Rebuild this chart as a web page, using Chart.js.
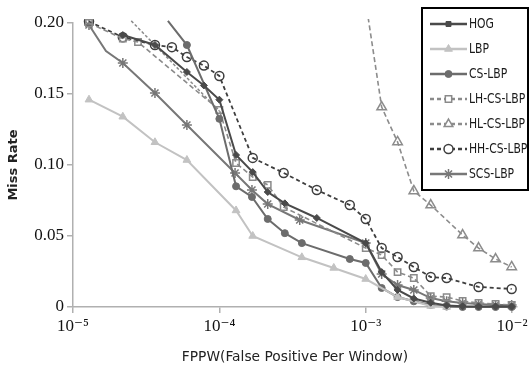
<!DOCTYPE html>
<html><head><meta charset="utf-8">
<script src="https://cdn.jsdelivr.net/npm/chart.js@4.4.1/dist/chart.umd.min.js"></script>
<style>html,body{margin:0;padding:0;background:#fff}#wrap{width:532px;height:370px;position:relative}</style>
</head><body><div id="wrap"><canvas id="c" width="532" height="370"></canvas></div>
<script>
// ---- data (FPPW on log x axis, Miss Rate on y axis) ----
const seriesNames = ['HOG','LBP','CS-LBP','LH-CS-LBP','HL-CS-LBP','HH-CS-LBP','SCS-LBP'];
const xTickValues = [1e-5, 1e-4, 1e-3, 1e-2];
const yTickValues = [0, 0.05, 0.10, 0.15, 0.20];

const hogFppw = [2.19e-5,3.63e-5,6.0e-5,7.84e-5,1.0e-4,1.3e-4,1.69e-4,2.14e-4,2.8e-4,4.63e-4,1.0e-3,1.285e-3,1.65e-3,2.13e-3,2.78e-3,3.57e-3,4.59e-3,5.9e-3,7.71e-3,9.93e-3];
const hogMiss = [0.1915,0.1845,0.1655,0.156,0.146,0.107,0.095,0.081,0.073,0.0627,0.045,0.0246,0.012,0.006,0.003,0.001,0.0005,0.0003,0.0003,0.0003];

const lbpFppw = [1.286e-5,2.19e-5,3.63e-5,6.0e-5,1.3e-4,1.69e-4,3.66e-4,6.05e-4,1.0e-3,1.65e-3,2.78e-3,3.57e-3];
const lbpMiss = [0.146,0.134,0.116,0.1035,0.068,0.050,0.035,0.0275,0.0197,0.007,0.0007,0.0];

const csFppw = [4.45e-5,6.0e-5,1.0e-4,1.3e-4,1.67e-4,2.14e-4,2.8e-4,3.66e-4,7.78e-4,1.0e-3,1.285e-3,1.65e-3,2.13e-3,2.78e-3,3.57e-3,4.59e-3,5.9e-3,7.71e-3,9.93e-3];
const csMiss = [0.2015,0.1845,0.1325,0.085,0.0775,0.062,0.052,0.045,0.0338,0.031,0.0134,0.007,0.004,0.0014,0.0003,0,0,0,0];

const lhFppw = [1.286e-5,2.19e-5,2.78e-5,1.0e-4,1.3e-4,1.69e-4,2.14e-4,2.75e-4,1.0e-3,1.285e-3,1.65e-3,2.13e-3,2.78e-3,3.57e-3,4.59e-3,5.9e-3,7.71e-3,9.93e-3];
const lhMiss = [0.200,0.189,0.1866,0.1387,0.1014,0.0915,0.086,0.0704,0.0415,0.0366,0.0246,0.0204,0.0077,0.007,0.0042,0.0028,0.0021,0.0014];
const lhUpperFppw = [2.5e-5,1.0e-4];
const lhUpperMiss = [0.2015,0.138];

const hlFppw = [1.0e-3,1.285e-3,1.65e-3,2.13e-3,2.78e-3,4.59e-3,5.9e-3,7.71e-3,9.93e-3];
const hlMiss = [0.215,0.1408,0.1162,0.0817,0.0718,0.0507,0.0415,0.0338,0.0282];

const hhFppw = [1.286e-5,2.19e-5,3.63e-5,4.74e-5,6.0e-5,7.84e-5,1.0e-4,1.69e-4,2.75e-4,4.63e-4,7.78e-4,1.0e-3,1.285e-3,1.65e-3,2.13e-3,2.78e-3,3.57e-3,5.9e-3,9.93e-3];
const hhMiss = [0.201,0.19,0.1845,0.183,0.176,0.170,0.1627,0.105,0.0944,0.0824,0.0718,0.062,0.0415,0.0352,0.0282,0.0211,0.0204,0.0141,0.0127];

const scsFppw = [1.286e-5,1.68e-5,2.19e-5,3.63e-5,6.0e-5,1.28e-4,1.67e-4,2.14e-4,3.54e-4,1.0e-3,1.285e-3,1.65e-3,2.13e-3,2.78e-3,3.57e-3,4.59e-3,5.9e-3,7.71e-3,9.93e-3];
const scsMiss = [0.1986,0.1803,0.1718,0.1507,0.1282,0.0944,0.0824,0.0725,0.0613,0.0451,0.0232,0.0155,0.0120,0.0063,0.004,0.0028,0.0021,0.0014,0.0014];

// ---- build ----
const pts = (xs, ys) => xs.map((x, i) => ({x: x, y: ys[i]}));
const hideAbove = r => ctx => (ctx.raw && ctx.raw.y > 0.2012) ? 0 : r;
const hideFirst = r => ctx => ctx.dataIndex === 0 ? 0 : r;
const clipArea = {left: 8, top: 4, right: 8, bottom: 8};

const datasets = [
  {label: seriesNames[0], data: pts(hogFppw, hogMiss), borderColor:'#4a4a4a', backgroundColor:'#4a4a4a', borderWidth:2,
   pointStyle:'rectRot', pointRadius:3.5, legendStyle:'rect'},
  {label: seriesNames[1], data: pts(lbpFppw, lbpMiss), borderColor:'#c2c2c2', backgroundColor:'#c2c2c2', borderWidth:2,
   pointStyle:'triangle', pointRadius:4.5},
  {label: seriesNames[2], data: pts(csFppw, csMiss), borderColor:'#6c6c6c', backgroundColor:'#6c6c6c', borderWidth:2,
   pointStyle:'circle', pointRadius:hideFirst(3.5), legendRadius:3.5},
  {label: seriesNames[3], data: pts(lhFppw, lhMiss), borderColor:'#8a8a8a', backgroundColor:'rgba(255,255,255,0)', borderWidth:1.6,
   borderDash:[5,3], pointStyle:'rect', pointRadius:4.5, pointBorderWidth:1.5},
  {label: seriesNames[4], data: pts(hlFppw, hlMiss), borderColor:'#8c8c8c', backgroundColor:'rgba(255,255,255,0)', borderWidth:1.6,
   borderDash:[5,3], pointStyle:'triangle', pointRadius:hideAbove(5.5), legendRadius:5, pointBorderWidth:1.5},
  {label: seriesNames[5], data: pts(hhFppw, hhMiss), borderColor:'#3e3e3e', backgroundColor:'rgba(255,255,255,0)', borderWidth:1.8,
   borderDash:[4,3], pointStyle:'circle', pointRadius:4.5, pointBorderWidth:1.5},
  {label: seriesNames[6], data: pts(scsFppw, scsMiss), borderColor:'#777777', backgroundColor:'#777777', borderWidth:2,
   pointStyle:'star', pointRadius: ctx => ctx.dataIndex === 1 ? 0 : 5, legendRadius:5, pointBorderWidth:1.5},
  {label: 'LH-CS-LBP upper', data: pts(lhUpperFppw, lhUpperMiss), borderColor:'#8a8a8a', borderWidth:1.5,
   borderDash:[3,2], pointRadius:0, noLegend:true}
];
datasets.forEach(d => { d.clip = clipArea; d.tension = 0; d.fill = false; if (d.pointBorderWidth === undefined) d.pointBorderWidth = 1;
  d.pointBackgroundColor = d.backgroundColor; d.pointBorderColor = d.borderColor; d.pointHoverRadius = 0; });

const supers = {'0':'⁰','1':'¹','2':'²','3':'³','4':'⁴','5':'⁵','6':'⁶','7':'⁷','8':'⁸','9':'⁹','-':'⁻'};
const supLabel = v => '10' + String(Math.round(Math.log10(v))).split('').map(c => supers[c]).join('');

const legendBox = {
  id: 'legendBox',
  afterDraw(chart) {
    const ctx = chart.ctx;
    const x0 = 422, y0 = 8, w = 106, h = 182;
    ctx.save();
    ctx.fillStyle = '#fff';
    ctx.fillRect(x0, y0, w, h);
    ctx.lineWidth = 2;
    ctx.strokeStyle = '#000';
    ctx.strokeRect(x0, y0, w, h);
    let y = 24;
    chart.data.datasets.forEach(ds => {
      if (ds.noLegend) return;
      ctx.setLineDash(ds.borderDash ? [4, 3] : []);
      ctx.strokeStyle = ds.borderColor;
      ctx.lineWidth = 2.4;
      ctx.beginPath(); ctx.moveTo(430, y); ctx.lineTo(467, y); ctx.stroke();
      ctx.setLineDash([]);
      ctx.fillStyle = (ds.backgroundColor && ds.backgroundColor !== 'rgba(255,255,255,0)') ? ds.backgroundColor : '#fff';
      ctx.strokeStyle = ds.borderColor;
      ctx.lineWidth = ds.pointBorderWidth || 1;
      const r = ds.legendRadius || (typeof ds.pointRadius === 'number' ? ds.pointRadius : 4);
      Chart.helpers.drawPoint(ctx, {pointStyle: ds.legendStyle || ds.pointStyle, radius: r, borderWidth: ctx.lineWidth, rotation: 0}, 448.5, y);
      ctx.save();
      ctx.translate(469, y + 0.5);
      ctx.scale(0.8, 1);
      ctx.fillStyle = '#1a1a1a';
      ctx.font = '13.5px "DejaVu Sans", sans-serif';
      ctx.textBaseline = 'middle';
      ctx.textAlign = 'left';
      ctx.fillText(ds.label, 0, 0);
      ctx.restore();
      y += 25;
    });
    ctx.restore();
  }
};

new Chart(document.getElementById('c'), {
  type: 'line',
  data: {datasets: datasets},
  options: {
    responsive: false,
    animation: false,
    devicePixelRatio: 1,
    layout: {padding: {left: 0, right: 15, top: 23, bottom: 0}},
    plugins: {legend: {display: false}, tooltip: {enabled: false}},
    scales: {
      x: {
        type: 'logarithmic', min: 1e-5, max: 1.08e-2,
        afterBuildTicks: s => { s.ticks = xTickValues.map(v => ({value: v})); },
        afterFit: s => { s.height = 63; },
        ticks: {callback: v => supLabel(v), autoSkip: false, maxRotation: 0, padding: 3,
          font: {family: '"Liberation Serif", "DejaVu Serif", serif', size: 17}, color: '#111'},
        grid: {display: true, drawOnChartArea: false, drawTicks: true, tickLength: 6, color: '#b0b0b0', lineWidth: 1.5},
        border: {display: true, color: '#b0b0b0', width: 1.5},
        title: {display: true, text: 'FPPW(False Positive Per Window)', color: '#222',
          font: {family: '"DejaVu Sans", sans-serif', size: 13.8}, padding: {top: 0, bottom: 4}}
      },
      y: {
        type: 'linear', min: 0, max: 0.2,
        afterBuildTicks: s => { s.ticks = yTickValues.map(v => ({value: v})); },
        afterFit: s => { s.width = 73; },
        ticks: {callback: v => v === 0 ? '0' : v.toFixed(2), padding: 3,
          font: {family: '"Liberation Serif", "DejaVu Serif", serif', size: 17}, color: '#111'},
        grid: {display: true, drawOnChartArea: false, drawTicks: true, tickLength: 6, color: '#b0b0b0', lineWidth: 1.5},
        border: {display: true, color: '#b0b0b0', width: 1.5},
        title: {display: true, text: 'Miss Rate', color: '#222',
          font: {family: '"DejaVu Sans", sans-serif', size: 13, weight: 'bold'}, padding: {top: 6, bottom: 0}}
      }
    }
  },
  plugins: [legendBox]
});
</script></body></html>
